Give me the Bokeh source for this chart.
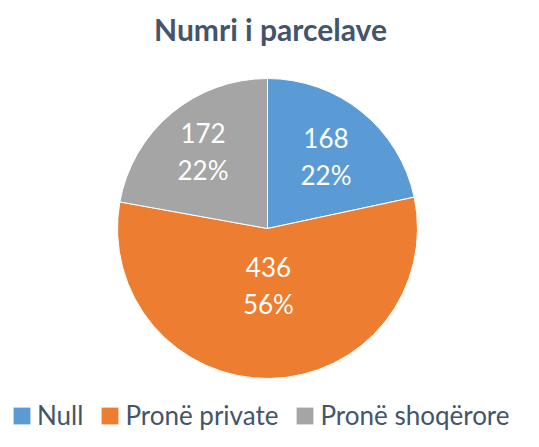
import numpy as np
from bokeh.plotting import figure
from bokeh.models import ColumnDataSource, Range1d, Legend, LegendItem
from bokeh.core.properties import value
from bokeh.embed import file_html
from bokeh.resources import INLINE

# ---- data ----
categories = ["Null", "Pronë private", "Pronë shoqërore"]
counts = [168, 436, 172]
colors = ["#5B9BD5", "#ED7D31", "#A5A5A5"]
title_text = "Numri i parcelave"

# ---- layout (pixel-like data space) ----
W, H = 523, 431
cx, cy, R = 267, 203, 150
label_r = [0.62, 0.38, 0.67]

vals = np.array(counts, dtype=float)
frac = vals / vals.sum()
ends_cum = np.cumsum(frac)
starts_cum = ends_cum - frac
# start at 12 o'clock, go clockwise
start_angle = np.pi / 2 - 2 * np.pi * starts_cum
end_angle = np.pi / 2 - 2 * np.pi * ends_cum
mid = (start_angle + end_angle) / 2
lx = cx + np.array(label_r) * R * np.cos(mid)
ly = cy + np.array(label_r) * R * np.sin(mid)
pct = [f"{int(round(f * 100))}%" for f in frac]

src = ColumnDataSource(dict(
    cat=categories, count=counts, color=colors,
    start=start_angle, end=end_angle,
    lx=lx, ly=ly, num=[str(c) for c in counts], pct=pct,
))

p = figure(width=W, height=H, output_backend="svg", toolbar_location=None,
           x_range=Range1d(0, W), y_range=Range1d(0, H), min_border=0,
           outline_line_color=None)
p.axis.visible = False
p.grid.visible = False
p.background_fill_color = "white"
p.border_fill_color = "white"

wedges = p.wedge(x=cx, y=cy, radius=R, start_angle="start", end_angle="end",
                 direction="clock", fill_color="color", line_color="white",
                 line_width=1, source=src)

p.text(x="lx", y="ly", text="num", source=src, text_color="white",
       text_font=value("Lato"), text_font_size="26px", text_align="center",
       text_baseline="middle", y_offset=-18)
p.text(x="lx", y="ly", text="pct", source=src, text_color="white",
       text_font=value("Lato"), text_font_size="26px", text_align="center",
       text_baseline="middle", y_offset=19)

p.text(x=[270], y=[H - 28], text=[title_text], text_color="#44546A",
       text_font=value("Lato"), text_font_style="bold", text_font_size="30px",
       text_align="center", text_baseline="middle")

# legend swatches: placeholder quad renderers (NaN geometry, nothing drawn)
nan = [np.nan]
swatches = [p.quad(left=nan, right=nan, top=nan, bottom=nan, fill_color=c,
                   line_color=None) for c in colors]
items = [LegendItem(label=categories[i], renderers=[swatches[i]]) for i in range(3)]
legend = Legend(items=items, orientation="horizontal", location=(11, 0),
                label_text_font="Lato", label_text_font_size="26px",
                label_text_color="#44546A", glyph_width=21, glyph_height=21,
                label_standoff=5, spacing=16, padding=0, margin=0,
                border_line_color=None, background_fill_alpha=0)
p.add_layout(legend, "center")

open("out.html", "w").write(file_html(p, INLINE))
